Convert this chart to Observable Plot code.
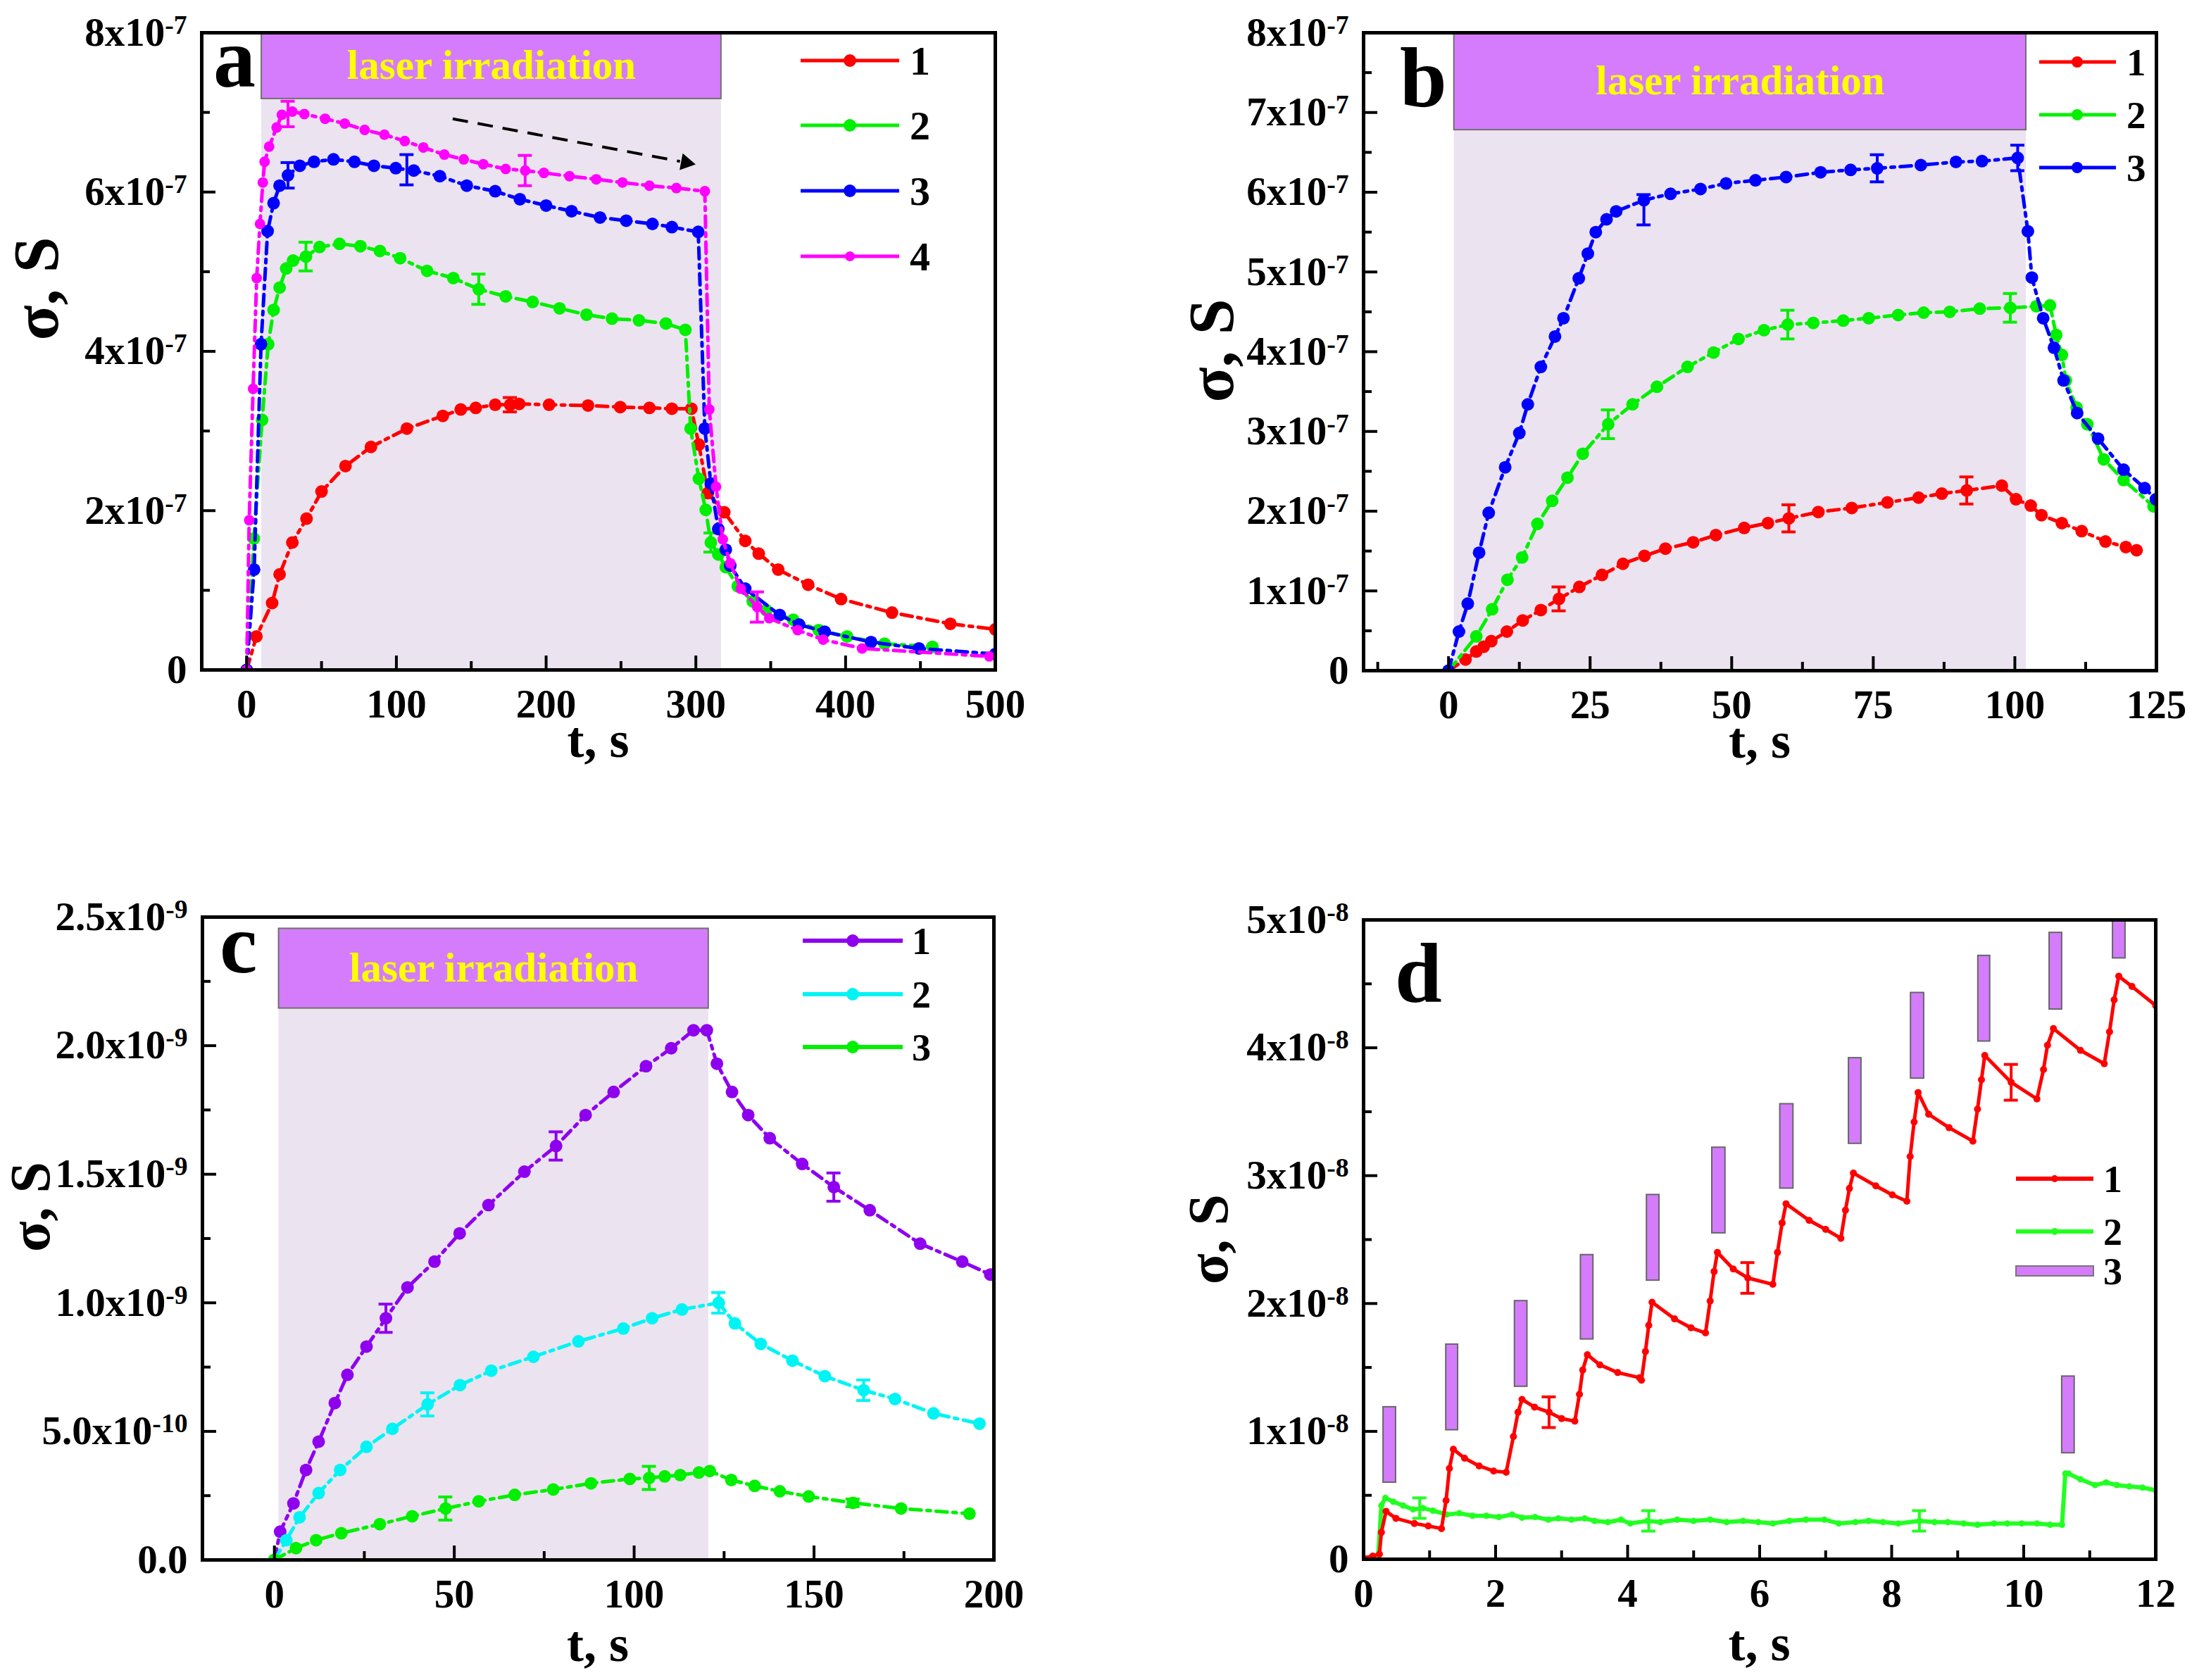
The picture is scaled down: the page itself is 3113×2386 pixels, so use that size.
<!DOCTYPE html>
<html><head><meta charset="utf-8">
<script src="https://cdn.jsdelivr.net/npm/d3@7"></script>
<script src="https://cdn.jsdelivr.net/npm/@observablehq/plot@0.6"></script>
<style>
body{margin:0;background:#fff;}
#root{position:relative;width:3113px;height:2386px;overflow:hidden;background:#fff;}
</style></head><body><div id="root"></div>
<script>
const FONT = "Liberation Serif, 'Times New Roman', serif";

// ---------- Panel a (sigma in units of 1e-7 S) ----------
const aT1 = [0, 6.5, 17, 22, 30.5, 40, 50, 66, 83, 107, 131, 143, 153, 166, 176, 182, 202, 228, 249.5, 269, 284, 297, 302, 308, 319, 333, 342, 355, 375, 397, 431, 470, 500];
const aS1 = [0, 0.42, 0.84, 1.20, 1.60, 1.90, 2.24, 2.56, 2.80, 3.03, 3.19, 3.27, 3.29, 3.33, 3.33, 3.34, 3.33, 3.32, 3.30, 3.29, 3.28, 3.28, 2.83, 2.22, 1.98, 1.62, 1.46, 1.26, 1.07, 0.89, 0.72, 0.58, 0.51];
const aT2 = [0, 4.8, 10.3, 14.4, 18, 22, 26.4, 31, 39.6, 48.7, 62, 76, 89, 102.5, 120.5, 138, 155, 173, 191, 209, 227, 244, 262, 280, 293, 296.5, 302, 306.6, 310, 315, 320, 328, 338, 347, 365, 382, 401, 426, 458];
const aS2 = [0, 1.65, 3.14, 4.09, 4.52, 4.80, 5.04, 5.14, 5.19, 5.31, 5.35, 5.32, 5.26, 5.17, 5.01, 4.92, 4.78, 4.69, 4.62, 4.54, 4.46, 4.41, 4.39, 4.35, 4.27, 3.03, 2.40, 2.01, 1.60, 1.45, 1.29, 1.05, 0.86, 0.75, 0.63, 0.50, 0.42, 0.33, 0.29];
const aT3 = [0, 5, 9.6, 14, 18, 22, 27.6, 35.5, 45, 58, 72, 85, 99.6, 111.6, 129, 147, 166, 182.5, 200, 217, 236, 253.5, 271, 284, 301.6, 306, 310, 315, 320, 323, 333, 356, 369, 386, 417, 449, 500];
const aS3 = [0, 1.26, 4.09, 5.51, 5.86, 6.08, 6.21, 6.33, 6.38, 6.41, 6.38, 6.33, 6.30, 6.27, 6.20, 6.08, 6.01, 5.91, 5.83, 5.76, 5.68, 5.64, 5.60, 5.56, 5.50, 3.03, 2.34, 1.77, 1.51, 1.31, 1.02, 0.69, 0.57, 0.48, 0.35, 0.27, 0.20];
const aT4 = [0, 1.7, 4.3, 6.7, 8.9, 10.8, 12, 15, 20, 23.5, 30.5, 38.5, 52.4, 65.5, 78.8, 92, 105.6, 118, 132, 145, 158, 173, 186, 198.5, 215.6, 233.5, 251, 269, 287, 306, 309, 313.5, 318, 323, 330, 341, 349, 368, 385, 411, 496];
const aS4 = [0, 1.88, 3.53, 4.92, 5.60, 6.12, 6.38, 6.57, 6.81, 6.97, 7.01, 6.98, 6.92, 6.86, 6.78, 6.72, 6.64, 6.56, 6.47, 6.41, 6.35, 6.29, 6.27, 6.24, 6.20, 6.16, 6.12, 6.08, 6.05, 6.01, 3.27, 2.30, 1.64, 1.34, 1.02, 0.79, 0.65, 0.50, 0.38, 0.27, 0.17];
const aErr1 = {t: [176], s: [3.33], e: [0.09]};
const aErr2 = {t: [39.6, 155, 310], s: [5.19, 4.78, 1.60], e: [0.18, 0.19, 0.12]};
const aErr3 = {t: [27.6, 107], s: [6.21, 6.28], e: [0.16, 0.19]};
const aErr4 = {t: [27.6, 186, 341], s: [6.98, 6.27, 0.79], e: [0.16, 0.19, 0.19]};
const aIrr = [10, 317];
const aHeader = [7.17, 8];
const aArrow = {t1: 137.6, s1: 6.92, t2: 293.4, s2: 6.37};
const aXTicks = [0, 100, 200, 300, 400, 500];
const aXMinor = [50, 150, 250, 350, 450];
const aYTicks = [0, 2, 4, 6, 8];
const aYMinor = [1, 3, 5, 7];
const aLabels = ["1", "2", "3", "4"];

// ---------- Panel b (1e-7 S) ----------
const bT1 = [0, 3, 4.9, 6.2, 7.55, 10.3, 13.1, 16.3, 19.5, 23.1, 27.1, 30.8, 34.6, 38.3, 43.2, 47.2, 52.2, 56.4, 60.1, 65.3, 71.2, 77.5, 83, 87.1, 91.5, 97.7, 100.2, 102.8, 104.7, 108.3, 111.8, 116, 119.6, 121.5];
const bS1 = [0, 0.14, 0.24, 0.30, 0.37, 0.49, 0.63, 0.76, 0.90, 1.05, 1.20, 1.34, 1.44, 1.53, 1.61, 1.70, 1.79, 1.85, 1.91, 1.99, 2.04, 2.11, 2.17, 2.22, 2.26, 2.32, 2.15, 2.07, 1.95, 1.85, 1.75, 1.62, 1.55, 1.51];
const bT2 = [0, 4.9, 7.7, 10.4, 13, 15.7, 18.3, 21, 23.7, 28.2, 32.5, 36.8, 42.2, 46.8, 51.2, 55.7, 59.9, 64.4, 69.7, 74.2, 79.4, 83.9, 88.5, 93.8, 99.2, 103.8, 106.2, 107.3, 108.3, 109, 110.9, 112.8, 115.7, 119.2, 124.5];
const bS2 = [0, 0.43, 0.77, 1.14, 1.42, 1.84, 2.13, 2.42, 2.72, 3.09, 3.34, 3.56, 3.81, 3.99, 4.16, 4.27, 4.34, 4.36, 4.39, 4.42, 4.46, 4.49, 4.50, 4.54, 4.55, 4.57, 4.58, 4.21, 3.96, 3.64, 3.30, 3.09, 2.65, 2.39, 2.06];
const bT3 = [0, 1.84, 3.4, 5.4, 7.1, 10, 12.5, 14, 16.3, 18.8, 20.3, 23, 24.6, 26, 27.9, 29.6, 34.5, 39.2, 44.5, 49, 54.2, 59.6, 65.7, 71, 75.7, 83.4, 89.6, 94.2, 100.5, 102.3, 103, 105, 106.9, 108.6, 111, 114.7, 119.2, 122.9, 124.9];
const bS3 = [0, 0.49, 0.84, 1.48, 1.98, 2.55, 2.98, 3.34, 3.81, 4.19, 4.42, 4.92, 5.23, 5.50, 5.66, 5.76, 5.90, 5.98, 6.04, 6.11, 6.15, 6.19, 6.25, 6.28, 6.30, 6.34, 6.38, 6.39, 6.43, 5.51, 4.93, 4.42, 4.05, 3.64, 3.23, 2.91, 2.52, 2.29, 2.15];
const bErr1 = {t: [19.5, 60.1, 91.5], s: [0.90, 1.91, 2.26], e: [0.15, 0.17, 0.17]};
const bErr2 = {t: [28.2, 59.9, 99.2], s: [3.09, 4.34, 4.55], e: [0.18, 0.18, 0.18]};
const bErr3 = {t: [34.5, 75.7, 100.5], s: [5.78, 6.30, 6.43], e: [0.19, 0.17, 0.16]};
const bIrr = [1, 102];
const bHeader = [6.78, 8];
const bXTicks = [0, 25, 50, 75, 100, 125];
const bXMinor = [-12.5, 12.5, 37.5, 62.5, 87.5, 112.5];
const bYTicks = [0, 1, 2, 3, 4, 5, 6, 7, 8];
const bYMinor = [0.5, 1.5, 2.5, 3.5, 4.5, 5.5, 6.5, 7.5];
const bLabels = ["1", "2", "3"];

// ---------- Panel c (1e-9 S) ----------
const cT1 = [0, 1.6, 5.3, 8.8, 12.3, 16.8, 20.3, 25.6, 31, 37, 44.5, 51.5, 59.5, 69.5, 78.3, 86.5, 94.3, 103.3, 110.3, 116.5, 120.2, 123, 127.2, 131.7, 137.7, 146.7, 155.5, 165.5, 179.5, 191.2, 199];
const cS1 = [0, 0.11, 0.22, 0.35, 0.46, 0.61, 0.72, 0.83, 0.94, 1.06, 1.16, 1.27, 1.38, 1.51, 1.61, 1.73, 1.82, 1.92, 1.99, 2.06, 2.06, 1.93, 1.82, 1.73, 1.64, 1.54, 1.45, 1.36, 1.23, 1.16, 1.11];
const cT2 = [0, 3.3, 7, 12.3, 18.3, 25.6, 32.8, 42.6, 51.6, 60.3, 72, 84.5, 97, 105, 113.3, 123.5, 128, 135.2, 144, 153, 163.8, 172.5, 183.2, 196];
const cS2 = [0, 0.077, 0.166, 0.26, 0.35, 0.44, 0.51, 0.605, 0.68, 0.736, 0.79, 0.85, 0.90, 0.94, 0.974, 1.0, 0.92, 0.84, 0.775, 0.715, 0.66, 0.626, 0.57, 0.53];
const cT3 = [0, 6, 11.6, 18.6, 29.3, 38.3, 47.6, 56.8, 66.8, 77.5, 88, 98.8, 104.2, 108.5, 112.8, 118, 121, 127, 133.5, 140.5, 148.5, 160.8, 174.2, 193.2];
const cS3 = [0, 0.046, 0.077, 0.104, 0.139, 0.17, 0.20, 0.228, 0.253, 0.274, 0.298, 0.315, 0.319, 0.325, 0.33, 0.34, 0.346, 0.311, 0.288, 0.267, 0.247, 0.222, 0.20, 0.18];
const cErr1 = {t: [31, 78.3, 155.5], s: [0.94, 1.61, 1.45], e: [0.055, 0.055, 0.055]};
const cErr2 = {t: [42.6, 123.5, 163.8], s: [0.605, 1.0, 0.66], e: [0.045, 0.04, 0.04]};
const cErr3 = {t: [47.6, 104.2, 160.8], s: [0.20, 0.319, 0.222], e: [0.045, 0.045, 0.015]};
const cIrr = [1.25, 120.7];
const cHeader = [2.145, 2.455];
const cXTicks = [0, 50, 100, 150, 200];
const cXMinor = [25, 75, 125, 175];
const cYTicks = [0, 0.5, 1, 1.5, 2, 2.5];
const cYMinor = [0.25, 0.75, 1.25, 1.75, 2.25];
const cLabels = ["1", "2", "3"];

// ---------- Panel d (1e-8 S) ----------
const dT1 = [0, 0.14, 0.24, 0.27, 0.34, 0.49, 0.77, 0.98, 1.18, 1.25, 1.3, 1.36, 1.53, 1.75, 1.97, 2.16, 2.27, 2.34, 2.4, 2.59, 2.81, 3.0, 3.2, 3.27, 3.32, 3.39, 3.58, 3.85, 4.18, 4.21, 4.27, 4.32, 4.37, 4.71, 4.96, 5.18, 5.25, 5.31, 5.36, 5.6, 5.82, 6.2, 6.27, 6.34, 6.4, 6.75, 7.0, 7.23, 7.3, 7.36, 7.42, 7.76, 8.01, 8.23, 8.28, 8.34, 8.4, 8.56, 8.87, 9.23, 9.3, 9.36, 9.41, 9.81, 10.2, 10.3, 10.36, 10.45, 10.86, 11.22, 11.3, 11.37, 11.44, 11.64, 12.0];
const dS1 = [0.01, 0.025, 0.04, 0.21, 0.375, 0.32, 0.28, 0.26, 0.24, 0.46, 0.71, 0.86, 0.79, 0.73, 0.69, 0.68, 0.96, 1.15, 1.25, 1.19, 1.15, 1.10, 1.08, 1.29, 1.48, 1.60, 1.52, 1.46, 1.42, 1.40, 1.625, 1.83, 2.01, 1.88, 1.81, 1.77, 2.02, 2.25, 2.40, 2.27, 2.20, 2.15, 2.40, 2.63, 2.78, 2.65, 2.58, 2.51, 2.73, 2.90, 3.02, 2.92, 2.85, 2.80, 3.15, 3.42, 3.65, 3.48, 3.375, 3.27, 3.52, 3.75, 3.94, 3.73, 3.60, 3.83, 4.02, 4.15, 3.98, 3.875, 4.125, 4.375, 4.56, 4.48, 4.33];
const dT2 = [0, 0.22, 0.27, 0.33, 0.45, 0.6, 0.75, 0.9, 1.05, 1.26, 1.45, 1.65, 1.86, 2.05, 2.25, 2.4, 2.6, 2.8, 2.95, 3.15, 3.35, 3.5, 3.7, 3.9, 4.04, 4.3, 4.5, 4.75, 5.0, 5.25, 5.5, 5.75, 5.98, 6.2, 6.45, 6.7, 6.98, 7.2, 7.45, 7.65, 7.87, 8.1, 8.42, 8.65, 8.85, 9.09, 9.3, 9.55, 9.75, 9.97, 10.2, 10.4, 10.58, 10.63, 10.68, 10.86, 11.08, 11.25, 11.41, 11.6, 11.8, 12];
const dS2 = [0, 0.02, 0.42, 0.48, 0.45, 0.42, 0.39, 0.40, 0.38, 0.35, 0.36, 0.34, 0.34, 0.33, 0.35, 0.325, 0.33, 0.31, 0.32, 0.31, 0.32, 0.30, 0.29, 0.31, 0.28, 0.30, 0.29, 0.31, 0.30, 0.31, 0.29, 0.30, 0.29, 0.28, 0.30, 0.31, 0.31, 0.28, 0.29, 0.30, 0.29, 0.28, 0.30, 0.29, 0.29, 0.28, 0.27, 0.28, 0.28, 0.28, 0.28, 0.27, 0.27, 0.67, 0.67, 0.625, 0.58, 0.60, 0.58, 0.57, 0.56, 0.54];
const dErr1 = {t: [2.81, 5.82, 9.81], s: [1.15, 2.20, 3.73], e: [0.12, 0.12, 0.14]};
const dErr2 = {t: [0.85, 4.32, 8.42], s: [0.40, 0.30, 0.30], e: [0.08, 0.08, 0.08]};
const dBarT1 = [0.30, 1.25, 2.29, 3.29, 4.29, 5.28, 6.31, 7.35, 8.29, 9.31, 10.39, 11.35, 10.58];
const dBarT2 = [0.49, 1.43, 2.48, 3.48, 4.48, 5.48, 6.51, 7.54, 8.49, 9.49, 10.58, 11.54, 10.77];
const dBarLo = [0.60, 1.01, 1.35, 1.72, 2.18, 2.55, 2.90, 3.25, 3.76, 4.05, 4.30, 4.70, 0.83];
const dBarHi = [1.19, 1.68, 2.02, 2.38, 2.85, 3.22, 3.56, 3.92, 4.43, 4.72, 4.90, 5.30, 1.43];
const dXTicks = [0, 2, 4, 6, 8, 10, 12];
const dXMinor = [1, 3, 5, 7, 9, 11];
const dYTicks = [0, 1, 2, 3, 4, 5];
const dYMinor = [0.5, 1.5, 2.5, 3.5, 4.5];
const dLabels = ["1", "2", "3"];

// ---------- helpers ----------
const HEADER_FILL = "#d47cfc";
const SHADE_FILL = "#ebe3ef";
const TEXT_YELLOW = "#ffff00";

function sci(v, unitExp, dec) {
  if (v === 0) return dec ? (0).toFixed(dec) : "0";
  const k = Math.floor(Math.log10(v) + 1e-9);
  const m = v / Math.pow(10, k);
  return (dec ? m.toFixed(dec) : String(Math.round(m))) + "x10^" + (unitExp + k);
}
const zip = (t, s) => t.map((x, i) => ({t: x, s: s[i]}));
const zipErr = (o) => o.t.map((x, i) => ({t: x, s: o.s[i], e: o.e[i]}));

function makePanel(c) {
  const fw = c.width - c.ml - c.mr;
  const capHalf = 10 * (c.xDomain[1] - c.xDomain[0]) / fw;
  const marks = [];
  if (c.irr) {
    marks.push(Plot.rect([{t1: c.irr[0], t2: c.irr[1], lo: c.yDomain[0], hi: c.header[0]}],
      {x1: "t1", x2: "t2", y1: "lo", y2: "hi", fill: SHADE_FILL}));
    marks.push(Plot.rect([{t1: c.irr[0], t2: c.irr[1], lo: c.header[0], hi: c.header[1]}],
      {x1: "t1", x2: "t2", y1: "lo", y2: "hi", fill: HEADER_FILL, stroke: "#707070", strokeWidth: 2}));
    marks.push(Plot.text([{t: (c.irr[0] + c.irr[1]) / 2, s: (c.header[0] + c.header[1]) / 2}],
      {x: "t", y: "s", text: () => "laser irradiation", fill: TEXT_YELLOW, fontSize: 59, fontWeight: "bold", fontFamily: FONT}));
  }
  if (c.bars) {
    const bars = c.bars.t1.map((x, i) => ({t1: x, t2: c.bars.t2[i], lo: c.bars.lo[i], hi: c.bars.hi[i]}));
    marks.push(Plot.rect(bars, {x1: "t1", x2: "t2", y1: "lo", y2: "hi", fill: HEADER_FILL, stroke: "#666", strokeWidth: 2, clip: true}));
  }
  for (const s of c.series) {
    const data = zip(s.t, s.s);
    marks.push(Plot.line(data, {x: "t", y: "s", stroke: s.color, strokeWidth: s.lw, strokeDasharray: s.dash, clip: true}));
    marks.push(Plot.dot(data, {x: "t", y: "s", r: s.r, fill: s.color, stroke: "none", clip: true}));
    if (s.err) {
      const e = zipErr(s.err);
      marks.push(Plot.ruleX(e, {x: "t", y1: d => d.s - d.e, y2: d => d.s + d.e, stroke: s.color, strokeWidth: 4}));
      marks.push(Plot.ruleY(e, {y: d => d.s - d.e, x1: d => d.t - capHalf, x2: d => d.t + capHalf, stroke: s.color, strokeWidth: 4}));
      marks.push(Plot.ruleY(e, {y: d => d.s + d.e, x1: d => d.t - capHalf, x2: d => d.t + capHalf, stroke: s.color, strokeWidth: 4}));
    }
  }
  if (c.arrow) {
    const a = c.arrow;
    marks.push(Plot.link([a], {x1: "t1", y1: "s1", x2: d => d.t2 - 4, y2: d => d.s2 + 0.015, stroke: "black", strokeWidth: 4, strokeDasharray: "22,14"}));
    marks.push(Plot.dot([a], {x: "t2", y: "s2", symbol: "triangle", r: 9, fill: "black", stroke: "none", rotate: 100.6}));
  }
  const blank = () => "";
  marks.push(
    Plot.frame({stroke: "black", strokeWidth: 5}),
    Plot.axisX({ticks: c.xTicks, tickSize: 0, tickPadding: 27, tickFormat: d => String(d), label: null}),
    Plot.axisX({ticks: c.xTicks, tickSize: -20, tickFormat: blank, label: null, strokeWidth: 4}),
    Plot.axisX({ticks: c.xMinor, tickSize: -12, tickFormat: blank, label: null, strokeWidth: 4}),
    Plot.axisY({ticks: c.yTicks, tickSize: 0, tickPadding: 21, tickFormat: v => sci(v, c.unitExp, c.dec), label: null}),
    Plot.axisY({ticks: c.yTicks, tickSize: -20, tickFormat: blank, label: null, strokeWidth: 4}),
    Plot.axisY({ticks: c.yMinor, tickSize: -12, tickFormat: blank, label: null, strokeWidth: 4})
  );
  const svg = Plot.plot({
    width: c.width, height: c.height,
    marginLeft: c.ml, marginRight: c.mr, marginTop: c.mt, marginBottom: c.mb,
    x: {domain: c.xDomain}, y: {domain: c.yDomain},
    style: {fontFamily: FONT, fontWeight: "bold", fontSize: "57px", background: "transparent", overflow: "visible", color: "black"},
    marks
  });
  svg.style.position = "absolute";
  svg.style.left = c.left + "px";
  svg.style.top = c.top + "px";

  // superscript exponents on y tick labels
  svg.querySelectorAll('[aria-label="y-axis tick label"] text').forEach(el => {
    const txt = el.textContent;
    if (txt.includes("^")) {
      const [base, ex] = txt.split("^");
      while (el.firstChild) el.removeChild(el.firstChild);
      el.appendChild(document.createTextNode(base));
      const ts = document.createElementNS("http://www.w3.org/2000/svg", "tspan");
      ts.setAttribute("dy", "-0.45em");
      ts.setAttribute("font-size", "0.66em");
      ts.textContent = ex;
      el.appendChild(ts);
    }
  });

  const g = d3.select(svg).append("g").attr("font-family", FONT).attr("font-weight", "bold").attr("text-anchor", "start");
  // panel letter
  g.append("text").attr("x", c.letter.x).attr("y", c.letter.y).attr("font-size", 120).attr("fill", "black").text(c.letter.ch);
  // x label
  g.append("text").attr("x", c.ml + fw / 2).attr("y", c.xlab.y).attr("text-anchor", "middle").attr("font-size", 72).attr("fill", "black").text("t, s");
  // y label
  g.append("text").attr("transform", `translate(${c.ylab.x},${c.ylab.y}) rotate(-90)`).attr("text-anchor", "middle").attr("font-size", c.ylab.fs).attr("fill", "black").text("σ, S");
  // legend
  const L = c.legend;
  L.items.forEach((it, i) => {
    const y = L.ys[i];
    if (it.type === "bar") {
      g.append("rect").attr("x", L.x1).attr("y", y - 7).attr("width", L.x2 - L.x1).attr("height", 14).attr("fill", HEADER_FILL).attr("stroke", "#777").attr("stroke-width", 2);
    } else {
      g.append("line").attr("x1", L.x1).attr("x2", L.x2).attr("y1", y).attr("y2", y).attr("stroke", it.color).attr("stroke-width", L.lw);
      g.append("circle").attr("cx", L.xd).attr("cy", y).attr("r", it.r || L.r).attr("fill", it.color);
    }
    g.append("text").attr("x", L.xl).attr("y", y).attr("dy", "0.35em").attr("font-size", L.fs).attr("fill", "black").text(it.label);
  });
  document.getElementById("root").appendChild(svg);
}

const RED = "#ff0000", GREEN = "#00f000", BLUE = "#0000ff", MAGENTA = "#ff00ff", PURPLE = "#8e00ee", CYAN = "#00f4f4";
const DASH = "16,8,5,8";

makePanel({
  left: 0, top: 0, width: 1540, height: 1100, ml: 286, mr: 127, mt: 46, mb: 149,
  xDomain: [-30, 500], yDomain: [0, 8], xTicks: aXTicks, xMinor: aXMinor, yTicks: aYTicks, yMinor: aYMinor, unitExp: -7, dec: 0,
  irr: aIrr, header: aHeader, arrow: aArrow,
  series: [
    {t: aT1, s: aS1, color: RED, lw: 5, dash: DASH, r: 9, err: aErr1},
    {t: aT2, s: aS2, color: GREEN, lw: 5, dash: DASH, r: 9, err: aErr2},
    {t: aT3, s: aS3, color: BLUE, lw: 5, dash: DASH, r: 9, err: aErr3},
    {t: aT4, s: aS4, color: MAGENTA, lw: 5, dash: DASH, r: 7.5, err: aErr4}
  ],
  letter: {ch: "a", x: 303, y: 123},
  xlab: {y: 1075}, ylab: {x: 82, y: 410, fs: 92},
  legend: {x1: 1137, x2: 1277, xd: 1207, xl: 1292, ys: [86, 178, 271, 364], r: 9, lw: 5, fs: 58,
    items: [{color: RED, label: aLabels[0]}, {color: GREEN, label: aLabels[1]}, {color: BLUE, label: aLabels[2]}, {color: MAGENTA, label: aLabels[3], r: 7}]}
});

makePanel({
  left: 1550, top: 0, width: 1563, height: 1100, ml: 386, mr: 51, mt: 46, mb: 148,
  xDomain: [-15, 125], yDomain: [0, 8], xTicks: bXTicks, xMinor: bXMinor, yTicks: bYTicks, yMinor: bYMinor, unitExp: -7, dec: 0,
  irr: bIrr, header: bHeader,
  series: [
    {t: bT1, s: bS1, color: RED, lw: 5, dash: DASH, r: 9, err: bErr1},
    {t: bT2, s: bS2, color: GREEN, lw: 5, dash: DASH, r: 9, err: bErr2},
    {t: bT3, s: bS3, color: BLUE, lw: 5, dash: DASH, r: 9, err: bErr3}
  ],
  letter: {ch: "b", x: 438, y: 151},
  xlab: {y: 1076}, ylab: {x: 201, y: 498, fs: 92},
  legend: {x1: 1346, x2: 1455, xd: 1400, xl: 1470, ys: [88, 163, 238], r: 8, lw: 5, fs: 55,
    items: [{color: RED, label: bLabels[0]}, {color: GREEN, label: bLabels[1]}, {color: BLUE, label: bLabels[2]}]}
});

makePanel({
  left: 0, top: 1200, width: 1540, height: 1186, ml: 287, mr: 129, mt: 102, mb: 171,
  xDomain: [-20, 200], yDomain: [0, 2.5], xTicks: cXTicks, xMinor: cXMinor, yTicks: cYTicks, yMinor: cYMinor, unitExp: -9, dec: 1,
  irr: cIrr, header: cHeader,
  series: [
    {t: cT1, s: cS1, color: PURPLE, lw: 5, dash: DASH, r: 9, err: cErr1},
    {t: cT2, s: cS2, color: CYAN, lw: 5, dash: DASH, r: 9, err: cErr2},
    {t: cT3, s: cS3, color: GREEN, lw: 5, dash: DASH, r: 9, err: cErr3}
  ],
  letter: {ch: "c", x: 312, y: 181},
  xlab: {y: 1159}, ylab: {x: 70, y: 514, fs: 80},
  legend: {x1: 1140, x2: 1282, xd: 1211, xl: 1295, ys: [136, 212, 287], r: 9, lw: 6, fs: 54,
    items: [{color: PURPLE, label: cLabels[0]}, {color: CYAN, label: cLabels[1]}, {color: GREEN, label: cLabels[2]}]}
});

makePanel({
  left: 1550, top: 1200, width: 1563, height: 1186, ml: 386, mr: 52, mt: 106, mb: 172,
  xDomain: [0, 12], yDomain: [0, 5], xTicks: dXTicks, xMinor: dXMinor, yTicks: dYTicks, yMinor: dYMinor, unitExp: -8, dec: 0,
  bars: {t1: dBarT1, t2: dBarT2, lo: dBarLo, hi: dBarHi},
  series: [
    {t: dT2, s: dS2, color: "#22ff22", lw: 6, dash: null, r: 4.5, err: dErr2},
    {t: dT1, s: dS1, color: RED, lw: 5, dash: null, r: 5, err: dErr1}
  ],
  letter: {ch: "d", x: 431, y: 223},
  xlab: {y: 1158}, ylab: {x: 193, y: 560, fs: 80},
  legend: {x1: 1313, x2: 1423, xd: 1368, xl: 1437, ys: [474, 549, 605], r: 5, lw: 6, fs: 54,
    items: [{color: RED, label: dLabels[0]}, {color: "#22ff22", label: dLabels[1]}, {type: "bar", label: dLabels[2]}]}
});
</script></body></html>
